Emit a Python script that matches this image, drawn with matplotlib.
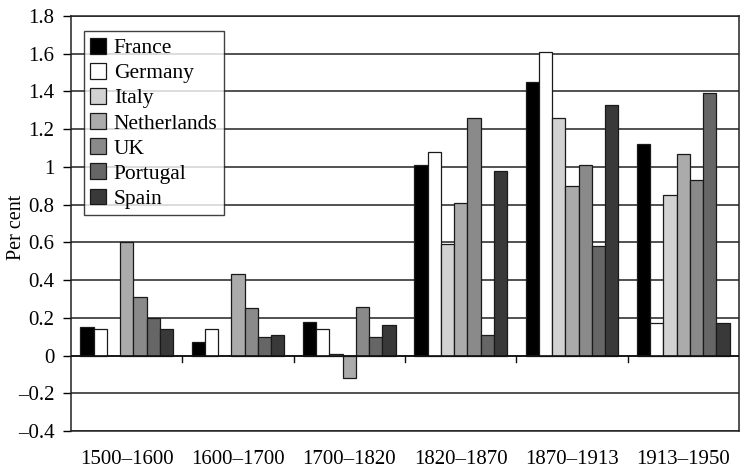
import numpy as np
import matplotlib
matplotlib.use("Agg")
import matplotlib.pyplot as plt

plt.rcParams['font.family'] = ['Liberation Serif', 'DejaVu Serif']

periods = ['1500–1600', '1600–1700', '1700–1820', '1820–1870', '1870–1913', '1913–1950']
countries = ['France', 'Germany', 'Italy', 'Netherlands', 'UK', 'Portugal', 'Spain']

france = [0.15, 0.07, 0.18, 1.01, 1.45, 1.12]
germany = [0.14, 0.14, 0.14, 1.08, 1.61, 0.17]
italy = [np.nan, np.nan, 0.01, 0.59, 1.26, 0.85]
netherlands = [0.60, 0.43, -0.12, 0.81, 0.90, 1.07]
uk = [0.31, 0.25, 0.26, 1.26, 1.01, 0.93]
portugal = [0.20, 0.10, 0.10, 0.11, 0.58, 1.39]
spain = [0.14, 0.11, 0.16, 0.98, 1.33, 0.17]

series = [france, germany, italy, netherlands, uk, portugal, spain]
colors = ['#000000', '#ffffff', '#d2d2d2', '#ababab', '#8a8a8a', '#666666', '#393939']

fig = plt.figure(figsize=(7.41, 4.71), dpi=100)
ax = fig.add_axes([0.0958, 0.0849, 0.9015, 0.8811])

x = np.arange(len(periods))
w = 0.119
for i, (vals, c, name) in enumerate(zip(series, colors, countries)):
    ax.bar(x + (i - 3) * w, vals, width=w, color=c, edgecolor='#1a1a1a',
           linewidth=0.9, label=name, zorder=3)

ax.set_xlim(-0.5, len(periods) - 0.5)
ax.set_ylim(-0.4, 1.8)
yt = np.round(np.arange(-0.4, 1.81, 0.2), 1)
ax.set_yticks(yt)
ax.set_yticklabels(['0' if v == 0 else f'{v:g}'.replace('-', '\u2013') for v in yt],
                   fontsize=15)
ax.yaxis.grid(True, color='#222222', linewidth=1.1, zorder=0)
ax.set_axisbelow(True)

# category labels under the plot, tick marks on the zero line between groups
ax.set_xticks(x)
ax.set_xticklabels(periods, fontsize=15)
ax.tick_params(axis='x', length=0, pad=14)
ax.tick_params(axis='y', length=6, direction='out', width=1, pad=6)
ax.axhline(0, color='#111111', linewidth=1.2, zorder=4)
for b in x[1:] - 0.5:
    ax.plot([b, b], [0, -0.035], color='#111111', linewidth=1, zorder=4, clip_on=False)

for s in ax.spines.values():
    s.set_color('#222222')
    s.set_linewidth(1.1)

ax.set_ylabel('Per cent', fontsize=14.5)
ax.yaxis.set_label_coords(-0.068, 0.49)

leg = ax.legend(loc='upper left', bbox_to_anchor=(0.019, 0.963), fontsize=15.5,
                frameon=True, fancybox=False, handlelength=0.75, handleheight=0.75,
                handletextpad=0.35, labelspacing=0.22, borderpad=0.3, borderaxespad=0)
leg.get_frame().set_edgecolor('#111111')
leg.get_frame().set_linewidth(1)

fig.savefig('out.png', dpi=100)
